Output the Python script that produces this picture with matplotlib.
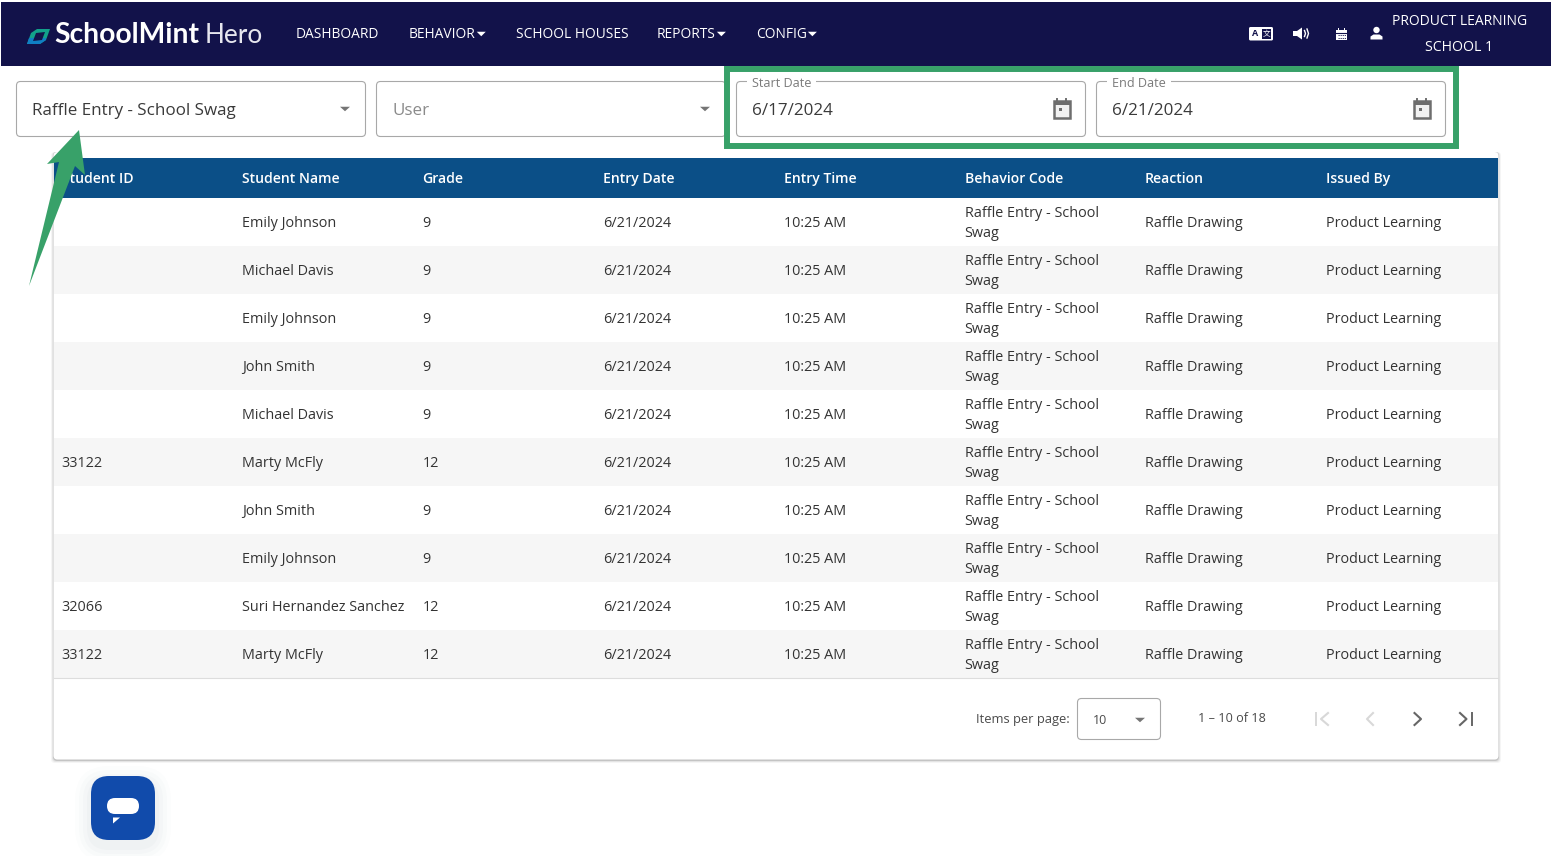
import matplotlib
matplotlib.use("Agg")
import matplotlib.pyplot as plt
from matplotlib.patches import FancyBboxPatch, Polygon, Rectangle, Circle

plt.rcParams['font.family'] = ['Open Sans', 'DejaVu Sans']

# table data
columns = ['Student ID', 'Student Name', 'Grade', 'Entry Date', 'Entry Time',
           'Behavior Code', 'Reaction', 'Issued By']
student_ids = ['', '', '', '', '', '33122', '', '', '32066', '33122']
student_names = ['Emily Johnson', 'Michael Davis', 'Emily Johnson', 'John Smith', 'Michael Davis',
                 'Marty McFly', 'John Smith', 'Emily Johnson', 'Suri Hernandez Sanchez', 'Marty McFly']
grades = ['9', '9', '9', '9', '9', '12', '9', '9', '12', '12']
entry_dates = ['6/21/2024'] * 10
entry_times = ['10:25 AM'] * 10
behavior_codes = ['Raffle Entry - School\nSwag'] * 10
reactions = ['Raffle Drawing'] * 10
issued_by = ['Product Learning'] * 10

nav_items = ['DASHBOARD', 'BEHAVIOR', 'SCHOOL HOUSES', 'REPORTS', 'CONFIG']
nav_x = [296, 409, 516, 657, 756]
nav_caret = [False, True, False, True, True]

col_x = [61.5, 242.3, 422.5, 603.2, 784, 964.6, 1145, 1325.5]

NAVY = '#12124a'
BLUE = '#0b4f87'
GREEN = '#38a169'
TEXT = '#333333'
BORDER = '#a8a8a8'

fig = plt.figure(figsize=(15.51, 8.56), dpi=100)
ax = fig.add_axes([0, 0, 1, 1])
ax.set_xlim(0, 1551)
ax.set_ylim(856, 0)
ax.axis('off')


def rbox(x, y, w, h, r=4, fc='white', ec=BORDER, lw=0.8, z=2, alpha=None):
    p = FancyBboxPatch((x + r, y + r), w - 2 * r, h - 2 * r, boxstyle=f'round,pad={r},rounding_size={r}',
                       fc=fc, ec=ec, lw=lw, zorder=z, alpha=alpha)
    ax.add_patch(p)
    return p


def txt(x, y, s, size=10.35, color=TEXT, weight='normal', ha='left', z=5, **kw):
    return ax.text(x, y + 1, s, fontsize=size, color=color, fontweight=weight, ha=ha, va='center', zorder=z, **kw)


def caret(x, y, w=5, h=4.5, color='#757575', z=5):
    ax.add_patch(Polygon([(x - w, y - h / 2), (x + w, y - h / 2), (x, y + h / 2)], fc=color, ec='none', zorder=z))


def calendar(x, y, color='#6e6e6e'):
    ax.add_patch(Rectangle((x - 8, y - 7.5), 16, 16.5, fc='#f2f2f2', ec=color, lw=1.8, zorder=6))
    ax.add_patch(Rectangle((x - 8, y - 7.5), 16, 4, fc=color, ec='none', zorder=6))
    ax.add_patch(Rectangle((x - 3, y - 1), 3.5, 3.5, fc=color, ec='none', zorder=6))
    for dx in (-4.5, 4.5):
        ax.plot([x + dx, x + dx], [y - 10, y - 7], color=color, lw=1.4, zorder=6)


# nav bar
ax.add_patch(Rectangle((1, 2), 1550, 64, fc=NAVY, ec='none', zorder=1))
ax.add_patch(Polygon([(27, 44), (31, 33), (37, 29), (50, 29), (46, 40), (40, 44)], fc='#12a08a', ec='none', zorder=3))
ax.add_patch(Polygon([(27, 44), (29, 38), (46, 38), (46, 40), (40, 44)], fc='#0f7fc4', ec='none', zorder=3))
ax.add_patch(Polygon([(33, 41), (36, 33), (45, 32), (42, 40)], fc=NAVY, ec='none', zorder=4))
txt(54, 34, 'SchoolMint', size=20.3, color='white', weight='bold', family='Lato')
txt(204.5, 34, 'Hero', size=18.8, color='#e6e6ee', weight='normal', family='Lato')

for label, x, has_caret in zip(nav_items, nav_x, nav_caret):
    t = txt(x, 33.7, label, size=9.9, color='white', weight='medium')
    if has_caret:
        fig.canvas.draw()
        bb = t.get_window_extent()
        caret(bb.x1 + 5.5, 34, w=4.5, h=4.5, color='white')

# right side nav icons
rbox(1249, 27, 24, 13.5, r=1.5, fc='white', ec='none', z=3)
txt(1255, 32.8, 'A', size=6.5, color=NAVY, weight='bold', ha='center')
ax.add_patch(Rectangle((1262, 29), 9, 10, fc=NAVY, ec='none', zorder=4))
txt(1266.5, 32.8, '文', size=5.5, color='white', ha='center', family=['Noto Sans CJK SC', 'DejaVu Sans'])
ax.add_patch(Polygon([(1293, 31), (1297, 31), (1302, 27.5), (1302, 39.5), (1297, 36), (1293, 36)], fc='white', ec='none', zorder=3))
ax.plot([1304.5, 1305.5, 1304.5], [30.5, 33.5, 36.5], color='white', lw=1, zorder=3)
ax.plot([1307, 1308.5, 1307], [29, 33.5, 38], color='white', lw=1, zorder=3)
ax.add_patch(Rectangle((1336, 29.5), 11, 10, fc='white', ec='none', zorder=3))
ax.add_patch(Rectangle((1337.5, 27.5), 1.5, 3, fc='white', ec='none', zorder=3))
ax.add_patch(Rectangle((1343.5, 27.5), 1.5, 3, fc='white', ec='none', zorder=3))
ax.plot([1336, 1347], [32.5, 32.5], color=NAVY, lw=0.8, zorder=4)
for yy in (35, 37.5):
    ax.plot([1337.5, 1345.5], [yy, yy], color=NAVY, lw=0.6, ls=(0, (1.5, 1)), zorder=4)
ax.add_patch(Circle((1376.5, 30), 3.2, fc='white', ec='none', zorder=3))
ax.add_patch(Polygon([(1370.5, 39.5), (1370.5, 36.5), (1373.5, 34.5), (1379.5, 34.5), (1382.5, 36.5), (1382.5, 39.5)],
                     fc='white', ec='none', zorder=3))
txt(1460, 20, 'PRODUCT LEARNING', size=10.0, color='white', weight='medium', ha='center')
txt(1459.5, 46.8, 'SCHOOL 1', size=10.2, color='white', weight='medium', ha='center')

# filter fields
rbox(16.5, 81.5, 349, 55)
txt(32, 109.5, 'Raffle Entry - School Swag', size=12.27, color='#3a3a3a')
caret(345, 109)
rbox(376.5, 81.5, 349, 55)
txt(392, 109.5, 'User', size=12.27, color='#8a8a8a')
caret(705, 109)

for x0, label, value in [(736, 'Start Date', '6/17/2024'), (1096, 'End Date', '6/21/2024')]:
    rbox(x0 + 0.5, 81.5, 349, 55)
    t = txt(x0 + 16, 82, label, size=9.1, color='#7a7a7a')
    fig.canvas.draw()
    bb = t.get_window_extent()
    ax.add_patch(Rectangle((x0 + 11, 78), bb.width + 10, 6, fc='white', ec='none', zorder=4))
    txt(x0 + 16, 109.5, value, size=12.27, color='#3a3a3a')
    calendar(x0 + 325.5, 108.5)

# green highlight box
ax.add_patch(Rectangle((727, 69), 729, 77, fc='none', ec=GREEN, lw=4.3, zorder=7))

# table card with a soft shadow
for i, a in enumerate([0.06, 0.10, 0.22]):
    rbox(53 - (2 - i), 152, 1446 + 2 * (2 - i), 609 + (2 - i), r=4, fc='#555555', ec='none', z=1.1 + i * 0.1, alpha=a)
rbox(53.5, 152, 1445, 607.5, r=4, fc='white', ec='none', z=1.5)
ax.add_patch(Rectangle((54, 158), 1444, 40, fc=BLUE, ec='none', zorder=2))
for x, name in zip(col_x, columns):
    txt(x, 178, name, color='white', weight='semibold', size=10.1)

rows = list(zip(student_ids, student_names, grades, entry_dates, entry_times,
                behavior_codes, reactions, issued_by))
for i, row in enumerate(rows):
    y0 = 198 + 48 * i
    if i % 2 == 1:
        ax.add_patch(Rectangle((54, y0), 1444, 48, fc='#f6f6f6', ec='none', zorder=2))
    ymid = y0 + 24.4
    for x, val in zip(col_x, row):
        if '\n' in val:
            a, b = val.split('\n')
            txt(x, ymid - 10, a)
            txt(x, ymid + 10, b)
        else:
            txt(x, ymid, val)
ax.plot([54, 1498], [678, 678], color='#dddddd', lw=0.8, zorder=3)

# paginator
txt(976, 719, 'Items per page:', size=9.25, color='#4a4a4a')
rbox(1077.5, 698.5, 83, 41)
txt(1093, 719, '10', size=9.0, color='#4a4a4a')
caret(1140, 720)
txt(1197.5, 718, '1 – 10 of 18', size=9.1, color='#4a4a4a')
LIGHT = '#d8d8d8'
DARK = '#666666'
ax.plot([1316, 1316], [713, 725], color=LIGHT, lw=1.4, zorder=4)
ax.plot([1328, 1321, 1328], [713, 719, 725], color=LIGHT, lw=1.5, zorder=4)
ax.plot([1373, 1367, 1373], [713, 719, 725], color=LIGHT, lw=1.5, zorder=4)
ax.plot([1414.5, 1421, 1414.5], [713, 719, 725], color=DARK, lw=1.5, zorder=4)
ax.plot([1460, 1466.5, 1460], [713, 719, 725], color=DARK, lw=1.5, zorder=4)
ax.plot([1472, 1472], [713, 725], color=DARK, lw=1.4, zorder=4)

# chat bubble button
for grow, a in [(16, 0.012), (12, 0.015), (8, 0.02), (4, 0.025)]:
    rbox(91 - grow, 776 - grow + 6, 64 + 2 * grow, 64 + 2 * grow, r=18 + grow, fc='#33566b', ec='none', z=1.2, alpha=a)
rbox(91, 776, 64, 64, r=18, fc='#114bab', ec='none', z=3)
rbox(107, 798, 32, 16, r=8, fc='white', ec='none', z=4)
ax.add_patch(Polygon([(113, 817.5), (120, 817.5), (113, 823.5)], fc='white', ec='none', zorder=4))

# green arrow over the table
ax.add_patch(Polygon([(79, 130), (47, 164), (59, 162), (29, 286), (75, 166), (85, 175)],
                     fc=GREEN, ec='none', zorder=8))

fig.savefig('out.png', dpi=100)
